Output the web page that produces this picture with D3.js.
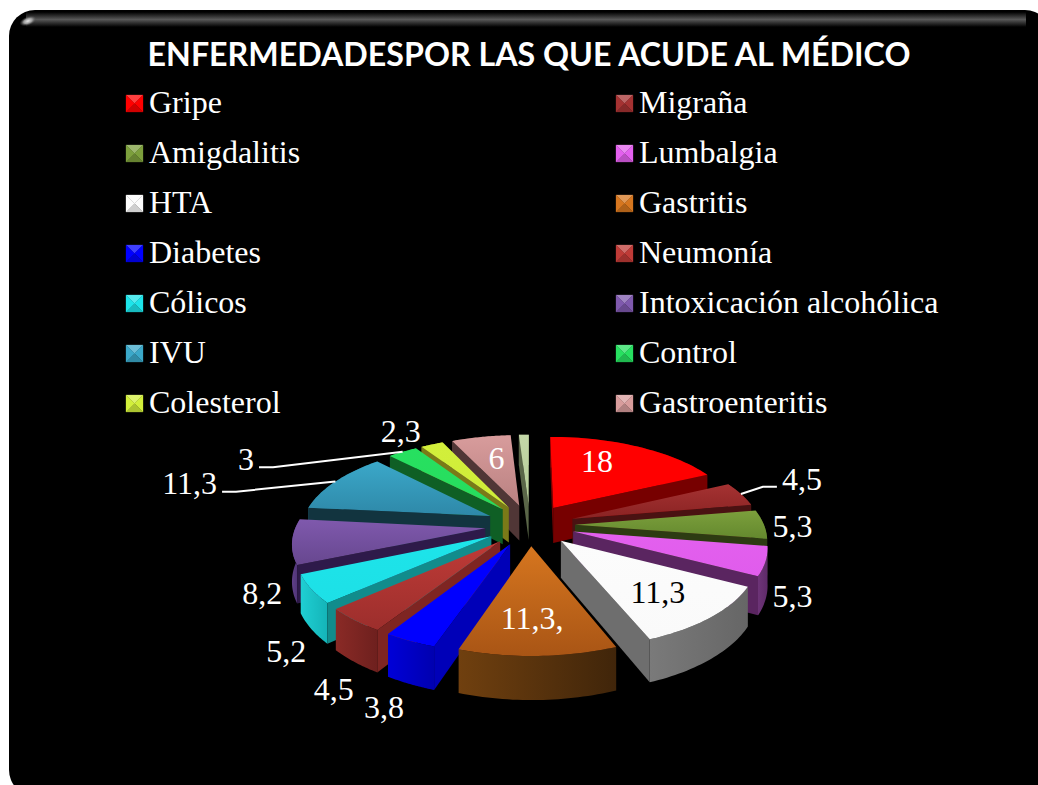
<!DOCTYPE html>
<html><head><meta charset="utf-8">
<script src="https://cdnjs.cloudflare.com/ajax/libs/d3/7.8.5/d3.min.js"></script>
<style>html,body{margin:0;padding:0;background:#fff}svg{display:block}</style>
</head><body>
<script>
const categories=["Gripe","Migraña","Amigdalitis","Lumbalgia","HTA","Gastritis","Diabetes","Neumonía","Cólicos","Intoxicación alcohólica","IVU","Control","Colesterol","Gastroenteritis",""];
const values=[18,4.5,5.3,5.3,11.3,11.3,3.8,4.5,5.2,8.2,11.3,3,2.3,6,1];
const labels=["18","4,5","5,3","5,3","11,3","11,3,","3,8","4,5","5,2","8,2","11,3","3","2,3","6",""];
const topA=["#ff0000","#a53232","#7c9f3c","#e360ee","#fcfcfc","#d6761f","#0000ff","#bf3b37","#1de4ea","#7f59ad","#3ba8c9","#27e060","#d2ef3b","#d89c9c","#c4d8a8"];
const topB=["#ff0000","#8a2323","#64892e","#e05cec","#fafafa","#a95515","#0000ff","#9c2e2c","#1de0e6","#67478f","#2e88a8","#27dc5e","#cfec38","#b98181","#b6cc98"];
const wallSide=["#770000","#4a1212","#2d3b12","#5a2560","#6e6e6e","#6a3a10","#0000b8","#7e2522","#118c8c","#2e1a4a","#12343f","#0f5f25","#7a7a18","#503636","#5a6648"];
const wallOutA=["#7a0000","#7a1c1c","#4a6222","#6e3478","#7a7a7a","#70400f","#0000d8","#8a2a26","#1fcfd3","#5f3f88","#1f6a80","#146f30","#8a8a20","#6e4a4a","#6a7658"];
const wallOutB=["#5a0000","#5e1515","#3d521c","#5e2a68","#666666","#40250a","#0000b0","#6e201e","#14b4b8","#4a3070","#164e60","#0f5f25","#7a7a18","#503636","#5a6648"];
const W=1038,H=785;
const cx=530,cy=525,R=189,explode=45,tilt=0.457,persp=0.000785,depth=36;
const svg=d3.select("body").append("svg").attr("width",W).attr("height",H)
  .style("font-family","'Liberation Serif',serif");
const defs=svg.append("defs");

// panel
const topGlow=defs.append("linearGradient").attr("id","glow").attr("x1",0).attr("x2",0).attr("y1",0).attr("y2",1);
topGlow.append("stop").attr("offset",0).attr("stop-color","#000");
topGlow.append("stop").attr("offset",.5).attr("stop-color","#585858");
topGlow.append("stop").attr("offset",1).attr("stop-color","#000");
const spot=defs.append("radialGradient").attr("id","spot");
spot.append("stop").attr("offset",0).attr("stop-color","#e8e8e8");
spot.append("stop").attr("offset",.5).attr("stop-color","#999");
spot.append("stop").attr("offset",1).attr("stop-color","#444").attr("stop-opacity",0);
svg.append("rect").attr("x",9).attr("y",10).attr("width",1042).attr("height",786).attr("rx",26).attr("fill","#000");
svg.append("rect").attr("x",26).attr("y",12).attr("width",1000).attr("height",15).attr("fill","url(#glow)");
svg.append("ellipse").attr("cx",28).attr("cy",21).attr("rx",9).attr("ry",4.5).attr("transform","rotate(-20 28 21)").attr("fill","url(#spot)");

// title
svg.append("text").attr("x",529).attr("y",66).attr("text-anchor","middle")
  .style("font-family","Lato,'Open Sans',sans-serif").style("font-weight",700).style("font-size","32.2px").attr("fill","#fff")
  .text("ENFERMEDADESPOR LAS QUE ACUDE AL MÉDICO");

// legend
const colX=d3.scalePoint().domain([0,1]).range([126,616]);
const rowY=d3.scaleLinear().domain([0,6]).range([102,402]);
function bevel(sel,c,s){
  const m=[s/2,s/2];
  const light=d3.interpolateRgb(c,"#fff")(.25), dark=d3.interpolateRgb(c,"#000")(.18);
  [[[0,0],[s,0],m,light],[[s,0],[s,s],m,c],[[0,s],[s,s],m,dark],[[0,0],[0,s],m,c]].forEach(f=>
    sel.append("path").attr("d",d3.line()(f.slice(0,3))+"Z").attr("fill",f[3]).attr("stroke",f[3]).attr("stroke-width",.3));
}
categories.slice(0,14).forEach((name,i)=>{
  const x=colX(i%2),y=rowY(Math.floor(i/2));
  const g=svg.append("g").attr("transform",`translate(${x},${y-7})`);
  bevel(g,topA[i],17);
  svg.append("text").attr("x",x+23).attr("y",y).attr("dy","0.35em").attr("fill","#fff").style("font-size","32px").text(name);
});

// pie
const arcs=d3.pie().sort(null).value(d=>d)(values);
function proj(X,Y,z){
  const s=1/(1-Y*persp);
  return [cx+X*s, cy+Y*tilt*s+z*s];
}
function pt(a,mid,r,z){
  const X=r*Math.sin(a)+explode*Math.sin(mid);
  const Y=-r*Math.cos(a)-explode*Math.cos(mid);
  return proj(X,Y,z);
}
const line=d3.line();
const order=arcs.map((d,i)=>({d,i,mid:(d.startAngle+d.endAngle)/2}))
  .sort((a,b)=>(-Math.cos(a.mid))-(-Math.cos(b.mid)));
const pieG=svg.append("g");
order.forEach(({d,i,mid})=>{
  const a0=d.startAngle,a1=d.endAngle;
  const sweep=d3.range(0,33).map(k=>a0+(a1-a0)*k/32);
  const top=[pt(0,mid,0,0),...sweep.map(a=>pt(a,mid,R,0))];
  const gradT=defs.append("linearGradient").attr("id","t"+i).attr("x1",0).attr("x2",0).attr("y1",0).attr("y2",1);
  gradT.append("stop").attr("offset",0).attr("stop-color",topA[i]);
  gradT.append("stop").attr("offset",1).attr("stop-color",topB[i]);
  const gradO=defs.append("linearGradient").attr("id","o"+i).attr("x1",0).attr("x2",1).attr("y1",0).attr("y2",0);
  gradO.append("stop").attr("offset",0).attr("stop-color",wallOutA[i]);
  gradO.append("stop").attr("offset",1).attr("stop-color",wallOutB[i]);
  const g=pieG.append("g");
  const outer=[...sweep.map(a=>pt(a,mid,R,0)),...sweep.slice().reverse().map(a=>pt(a,mid,R,depth))];
  g.append("path").attr("d",line(outer)+"Z").attr("fill",`url(#o${i})`);
  const sideA=[pt(0,mid,0,0),pt(a0,mid,R,0),pt(a0,mid,R,depth),pt(0,mid,0,depth)];
  const sideB=[pt(0,mid,0,0),pt(0,mid,0,depth),pt(a1,mid,R,depth),pt(a1,mid,R,0)];
  [sideA,sideB].forEach(p=>{
    if(d3.polygonArea(p)>0) g.append("path").attr("d",line(p)+"Z").attr("fill",wallSide[i]);
  });
  g.append("path").attr("d",line(top)+"Z").attr("fill",`url(#t${i})`);
});

// labels: offset from the projected middle of each slice's rim
const labelPull=[.55,1.2,1.2,1.2,.68,.62,1.2,1.2,1.2,1.2,1.2,1.2,1.2,.62,0];
const labelShift=[[-5,-12],[29,-11],[-9,2],[-14,28],[-1,1],[-3,8],[-2,43],[13,50],[15,50],[10,48],[-117,8],[-139,17],[-18,-3],[2,-3],[0,0]];
const leaders=new Set([1,10,11]);
arcs.forEach((d,i)=>{
  if(!labels[i])return;
  const mid=(d.startAngle+d.endAngle)/2;
  const p=pt(mid,mid,R*labelPull[i],0);
  const lx=p[0]+labelShift[i][0], ly=p[1]+labelShift[i][1];
  const t=svg.append("text").attr("x",lx).attr("y",ly).attr("dy","0.35em")
    .attr("text-anchor","middle").attr("fill",i===4?"#000":"#fff").style("font-size","32px").text(labels[i]);
  if(leaders.has(i)){
    const rim=pt(mid,mid,R,0);
    const dir=rim[0]>lx?1:-1;
    const a=[lx+dir*(t.node().getComputedTextLength()/2+5),ly+8.5], b=[a[0]+dir*14,a[1]];
    svg.append("path").attr("d",line([a,b,rim])).attr("fill","none").attr("stroke","#fff").attr("stroke-width",2);
  }
});
</script>
</body></html>
